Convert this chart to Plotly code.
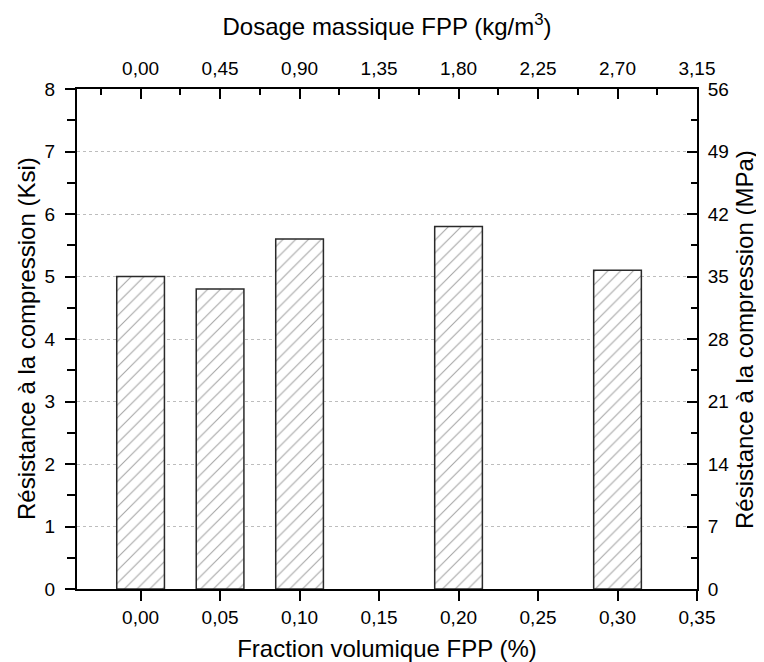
import plotly.graph_objects as go

# ---- data ----
fraction_pct = [0.00, 0.05, 0.10, 0.20, 0.30]
resistance_ksi = [5.0, 4.8, 5.6, 5.8, 5.1]

bottom_tickvals = [0.00, 0.05, 0.10, 0.15, 0.20, 0.25, 0.30, 0.35]
bottom_ticktext = ["0,00", "0,05", "0,10", "0,15", "0,20", "0,25", "0,30", "0,35"]
top_ticktext = ["0,00", "0,45", "0,90", "1,35", "1,80", "2,25", "2,70", "3,15"]
left_tickvals = [0, 1, 2, 3, 4, 5, 6, 7, 8]
right_tickvals = [0, 7, 14, 21, 28, 35, 42, 49, 56]

FONT = "Liberation Sans, Arial, sans-serif"
TICK = dict(family=FONT, size=19, color="black")
TITLE = dict(family=FONT, size=24, color="black")

# page has an 8px body margin, so the figure is sized to fit the window
W, H = 756, 654
ML, MR, MT, MB = 69, 67, 81, 73
PW = W - ML - MR

fig = go.Figure()
fig.add_trace(go.Bar(
    x=fraction_pct, y=resistance_ksi, width=0.03,
    marker=dict(color="white",
                line=dict(color="#2a2a2a", width=1.5),
                pattern=dict(shape="/", size=9, solidity=0.12,
                             fgcolor="#4a4a4a", bgcolor="white")),
    showlegend=False, hoverinfo="x+y"))
# invisible trace to activate the secondary (top / right) axes
fig.add_trace(go.Scatter(x=[0], y=[0], xaxis="x2", yaxis="y2", mode="markers",
                         marker=dict(opacity=0), showlegend=False, hoverinfo="skip"))

xr = [-0.04, 0.35]
fig.update_layout(
    width=W, height=H,
    margin=dict(l=ML, r=MR, t=MT, b=MB, autoexpand=False),
    paper_bgcolor="white", plot_bgcolor="white",
    font=dict(family=FONT, color="black"),
    xaxis=dict(range=xr, tickmode="array", tickvals=bottom_tickvals, ticktext=bottom_ticktext,
               automargin=False,
               ticks="outside", ticklen=10, tickwidth=2, tickcolor="black",
               ticklabelstandoff=0,
               showline=True, linewidth=2, linecolor="black", showgrid=False, zeroline=False,
               tickfont=TICK,
               title=dict(text="Fraction volumique FPP (%)", font=TITLE, standoff=14)),
    xaxis2=dict(range=xr, overlaying="x", side="top", anchor="y",
                automargin=False,
                tickmode="array", tickvals=bottom_tickvals, ticktext=top_ticktext,
                ticks="inside", ticklen=10, tickwidth=2, tickcolor="black",
                ticklabelstandoff=4,
                minor=dict(dtick=0.025, tick0=0.025, ticks="inside", ticklen=6,
                           tickwidth=2, tickcolor="black", showgrid=False),
                showline=True, linewidth=2, linecolor="black", showgrid=False, zeroline=False,
                tickfont=TICK,
                title=dict(text="Dosage massique FPP (kg/m<sup>3</sup>)", font=TITLE, standoff=16)),
    yaxis=dict(range=[0, 8], tickmode="array", tickvals=left_tickvals,
               automargin=False,
               ticks="outside", ticklen=10, tickwidth=2, tickcolor="black",
               ticklabelstandoff=6,
               minor=dict(dtick=0.5, tick0=0, ticks="outside", ticklen=8,
                          tickwidth=2, tickcolor="black", showgrid=False),
               showline=True, linewidth=2, linecolor="black",
               showgrid=True, gridcolor="#bdbdbd", griddash="dot", gridwidth=1,
               zeroline=False, tickfont=TICK),
    yaxis2=dict(range=[0, 56], overlaying="y", side="right", anchor="x",
                automargin=False,
                tickmode="array", tickvals=right_tickvals,
                ticks="inside", ticklen=10, tickwidth=2, tickcolor="black",
                ticklabelstandoff=5,
                minor=dict(dtick=3.5, tick0=0, ticks="inside", ticklen=6,
                           tickwidth=2, tickcolor="black", showgrid=False),
                showline=True, linewidth=2, linecolor="black", showgrid=False, zeroline=False,
                tickfont=TICK),
    annotations=[
        dict(text="Résistance à la compression (Ksi)", textangle=-90,
             xref="paper", yref="paper", x=(18 - ML) / PW, y=0.5,
             xanchor="center", yanchor="middle", showarrow=False, font=TITLE),
        dict(text="Résistance à la compression (MPa)", textangle=-90,
             xref="paper", yref="paper", x=1 + (736 - (W - MR)) / PW, y=0.5,
             xanchor="center", yanchor="middle", showarrow=False, font=TITLE),
    ],
)

fig.write_html("out.html")
